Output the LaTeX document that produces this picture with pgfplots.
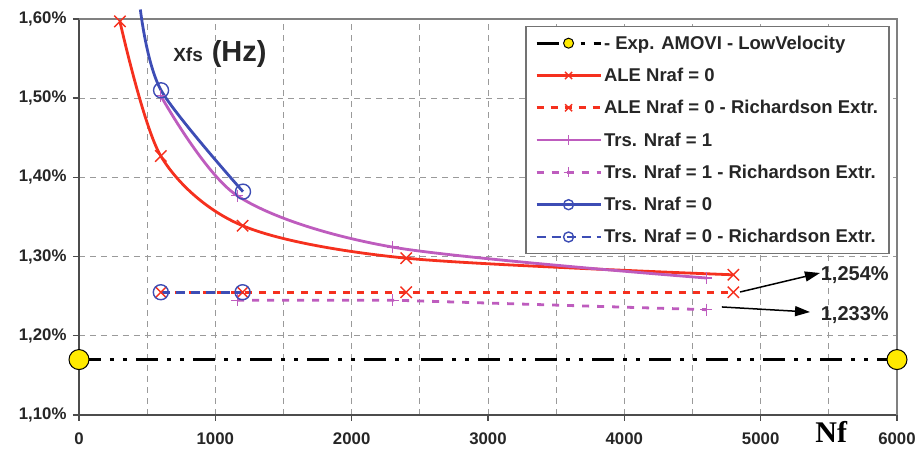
\documentclass[border=0pt]{standalone}
\usepackage{fontspec}
\setmainfont{Liberation Sans}
\newfontfamily\nffont{Liberation Serif}
\usepackage{pgfplots}
\pgfplotsset{compat=1.18}
\usetikzlibrary{arrows.meta}
\definecolor{AleRed}{HTML}{F5301E}
\definecolor{TrsMag}{HTML}{BE5CBE}
\definecolor{TrsBlue}{HTML}{3D4DB5}
\definecolor{ExpYel}{HTML}{FFEA00}
\definecolor{GridGray}{HTML}{9A9A9A}

\begin{document}
\begin{tikzpicture}
  \begin{axis}[
    scale only axis,width=818pt,height=396pt,
    xmin=0,xmax=6000,ymin=1.10,ymax=1.60,clip=false,
    xtick={0,1000,2000,3000,4000,5000,6000},
    xticklabels={0,1000,2000,3000,4000,5000,6000},
    minor xtick={500,1500,2500,3500,4500,5500},
    ytick={1.10,1.20,1.30,1.40,1.50,1.60},
    yticklabels={{1,10\%},{1,20\%},{1,30\%},{1,40\%},{1,50\%},{1,60\%}},
    grid=both,
    grid style={draw=GridGray,line width=0.9pt,dash pattern=on 6pt off 5pt},
    minor grid style={draw=GridGray,line width=0.9pt,dash pattern=on 6pt off 5pt},
    axis lines=left,axis line style={-,draw=black!70,line width=2.2pt},
    tick align=outside,major tick length=6pt,minor tick length=0pt,
    tick style={draw=black!70,line width=1.4pt},
    ticklabel style={font=\fontsize{16.8}{16.8}\selectfont\bfseries,text=black!85},
    xticklabel style={yshift=-8pt},
    yticklabel style={xshift=-3pt},
    legend style={at={(axis description cs:0.991,0.982)},anchor=north east,
      draw=black!55,line width=1.2pt,fill=white,
      font=\fontsize{18.5}{20}\selectfont\bfseries,row sep=13.4pt,
      inner xsep=9pt,inner ysep=7pt,cells={anchor=west},text=black!85},
    legend image code/.code={\draw[mark repeat=2,mark phase=2,#1,mark size=5pt,mark indices={2}]
      plot coordinates {(0pt,0pt) (32pt,0pt) (64pt,0pt)};},
  ]
    \draw[draw=black!50,line width=1.4pt] (rel axis cs:0,1) -- (rel axis cs:1,1) -- (rel axis cs:1,0);

    \addplot[black,line width=3pt,dash pattern=on 22pt off 9pt on 4pt off 9pt on 4pt off 9pt,
      mark=*,mark size=10pt,mark options={solid,fill=ExpYel,draw=black,line width=1pt}]
      coordinates {(0,1.17) (6000,1.17)};
    \addlegendentry{- Exp. AMOVI - LowVelocity}

    \addplot[AleRed,line width=2.8pt,smooth,mark=x,mark size=8pt,mark options={line width=1.4pt}]
      coordinates {(300,1.597) (600,1.427) (1200,1.339) (2400,1.298) (4800,1.277)};
    \addlegendentry{ALE Nraf = 0}

    \addplot[AleRed,line width=2.8pt,dash pattern=on 7pt off 7pt,mark=x,mark size=8pt,mark options={solid,line width=1.4pt}]
      coordinates {(600,1.255) (1200,1.255) (2400,1.255) (4800,1.255)};
    \addlegendentry{ALE Nraf = 0 - Richardson Extr.}

    \addplot[TrsMag,line width=2.8pt,smooth,mark=+,mark size=6pt,mark options={line width=1.2pt}]
      coordinates {(600,1.503) (1160,1.377) (2300,1.312) (4600,1.273)};
    \addlegendentry{Trs. Nraf = 1}

    \addplot[TrsMag,line width=2.8pt,dash pattern=on 7pt off 8pt,mark=+,mark size=6pt,mark options={solid,line width=1.2pt}]
      coordinates {(1160,1.245) (2300,1.245) (4600,1.233)};
    \addlegendentry{Trs. Nraf = 1 - Richardson Extr.}

    \addplot[TrsBlue,line width=2.8pt,smooth,mark=o,mark size=7.5pt,mark indices={2,3},mark options={line width=1.4pt}]
      coordinates {(450,1.612) (602,1.510) (1203,1.382)};
    \addlegendentry{Trs. Nraf = 0}

    \addplot[TrsBlue,line width=2.8pt,dash pattern=on 9pt off 6pt,mark=o,mark size=7.5pt,mark options={solid,line width=1.4pt}]
      coordinates {(600,1.255) (1200,1.255)};
    \addlegendentry{Trs. Nraf = 0 - Richardson Extr.}

    \draw[-{Triangle[length=15pt,width=10pt]},line width=1.5pt] (axis cs:4849,1.2553) -- (axis cs:5435,1.2793);
    \draw[-{Triangle[length=15pt,width=10pt]},line width=1.5pt] (axis cs:4716,1.2364) -- (axis cs:5362,1.2300);
    \node[anchor=west,inner sep=0pt,font=\fontsize{20}{20}\selectfont\bfseries,text=black!85] at (axis cs:5440,1.2768) {1,254\%};
    \node[anchor=west,inner sep=0pt,font=\fontsize{20}{20}\selectfont\bfseries,text=black!85] at (axis cs:5440,1.2263) {1,233\%};
    \node[anchor=west,inner sep=0pt,text=black!85] at (axis cs:690,1.5560)
      {{\fontsize{19}{19}\selectfont\bfseries Xfs}\hspace{9pt}{\fontsize{29}{29}\selectfont\bfseries (Hz)}};
    \node[anchor=west,inner sep=0pt,font=\nffont\fontsize{30}{30}\selectfont\bfseries] at (axis cs:5400,1.10) [yshift=-17pt] {Nf};
  \end{axis}
  \pgfresetboundingbox
  \path[use as bounding box] (-79pt,-37pt) rectangle (840pt,415pt);
\end{tikzpicture}
\end{document}
